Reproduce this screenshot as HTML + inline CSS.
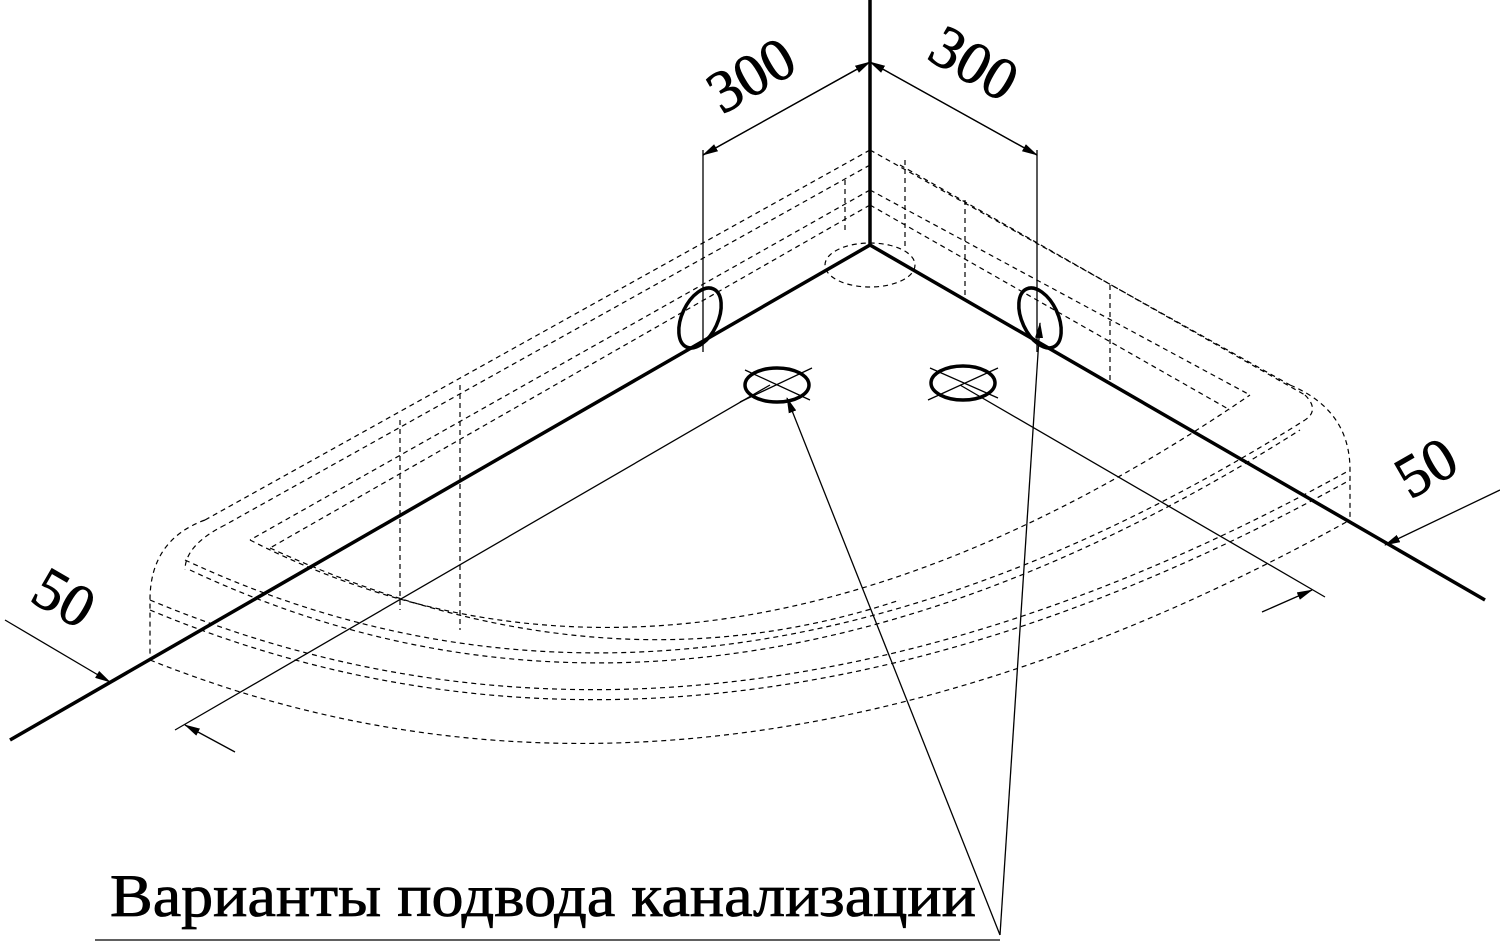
<!DOCTYPE html>
<html><head><meta charset="utf-8"><style>
html,body{margin:0;padding:0;background:#fff;}
svg{display:block;}
</style></head><body>
<svg width="1500" height="944" viewBox="0 0 1500 944" xmlns="http://www.w3.org/2000/svg">
<defs>
<marker id="a" markerWidth="16" markerHeight="8" refX="15" refY="4" orient="auto" markerUnits="userSpaceOnUse">
<path d="M0,0 L16,4 L0,8 Z" fill="#000"/></marker>
</defs>
<g fill="none" stroke="#000">
<g stroke-width="1.2" stroke-dasharray="5,4">
<path d="M870,150 L205,520"/>
<path d="M870,165 L225,525"/>
<path d="M870,190 L250,540"/>
<path d="M870,205 L270,548"/>
<path d="M870,150 L1290,385"/>
<path d="M900,165 L1305,395"/>
<path d="M870,190 L1250,395"/>
<path d="M870,205 L1230,410"/>
<path d="M205,520 Q150,540 150,600 L150,660"/>
<path d="M225,525 Q185,545 185,570"/>
<path d="M1290,385 Q1350,410 1350,470 L1350,520"/>
<path d="M1305,395 Q1320,410 1305,420"/>
<path d="M150,600 Q700,830 1350,470"/>
<path d="M150,610 Q700,840 1350,480"/>
<path d="M185,560 Q700,800 1305,420"/>
<path d="M190,570 Q700,810 1300,430"/>
<path d="M250,540 Q700,770 1250,395"/>
<path d="M150,660 Q700,880 1350,520"/>
<path d="M270,548 Q600,700 900,600"/>
<path d="M400,420 L400,610"/>
<path d="M460,385 L460,630"/>
<path d="M845,180 L845,230 M905,160 L905,250 M965,200 L965,300 M1110,285 L1110,385"/>
<ellipse cx="870" cy="265" rx="45" ry="22"/>
</g>
<g stroke-width="3.5">
<path d="M870,0 L870,245"/>
<path d="M870,245 L10,740"/>
<path d="M870,245 L1485,600"/>
<ellipse cx="700" cy="318" rx="18" ry="32" transform="rotate(25 700 318)"/>
<ellipse cx="1040" cy="318" rx="18" ry="32" transform="rotate(-25 1040 318)"/>
<ellipse cx="777" cy="385" rx="32" ry="17"/>
<ellipse cx="963" cy="383" rx="32" ry="17"/>
</g>
<g stroke-width="1.3">
<path d="M703,150 L703,352"/>
<path d="M1037,150 L1037,352"/>
<path d="M870,62 L703,155" marker-end="url(#a)"/>
<path d="M703,155 L870,62" marker-end="url(#a)"/>
<path d="M870,62 L1037,155" marker-end="url(#a)"/>
<path d="M1037,155 L870,62" marker-end="url(#a)"/>
<path d="M745,370 L810,400 M740,402 L812,368"/>
<path d="M930,368 L998,398 M928,400 L998,368"/>
<path d="M5,620 L110,682" marker-end="url(#a)"/>
<path d="M235,752 L185,725" marker-end="url(#a)"/>
<path d="M175,730 L770,385"/>
<path d="M1500,490 L1385,545" marker-end="url(#a)"/>
<path d="M1262,612 L1312,590" marker-end="url(#a)"/>
<path d="M960,385 L1325,597"/>
<path d="M1000,935 L787,398" marker-end="url(#a)"/>
<path d="M1000,935 L1040,323" marker-end="url(#a)"/>
<path d="M95,940 L1000,940"/>
</g>
</g>
<g font-family="'Liberation Serif',serif" fill="#000" stroke="#000" stroke-width="0.8">
<text x="0" y="0" font-size="60" transform="translate(722,115) rotate(-30)">300</text>
<text x="0" y="0" font-size="60" transform="translate(925,58) rotate(30)">300</text>
<text x="0" y="0" font-size="60" transform="translate(28,600) rotate(30)">50</text>
<text x="0" y="0" font-size="60" transform="translate(1410,500) rotate(-30)">50</text>
<text x="110" y="916" font-size="60" textLength="866" lengthAdjust="spacingAndGlyphs">Варианты подвода канализации</text>
</g>
</svg>
</body></html>
